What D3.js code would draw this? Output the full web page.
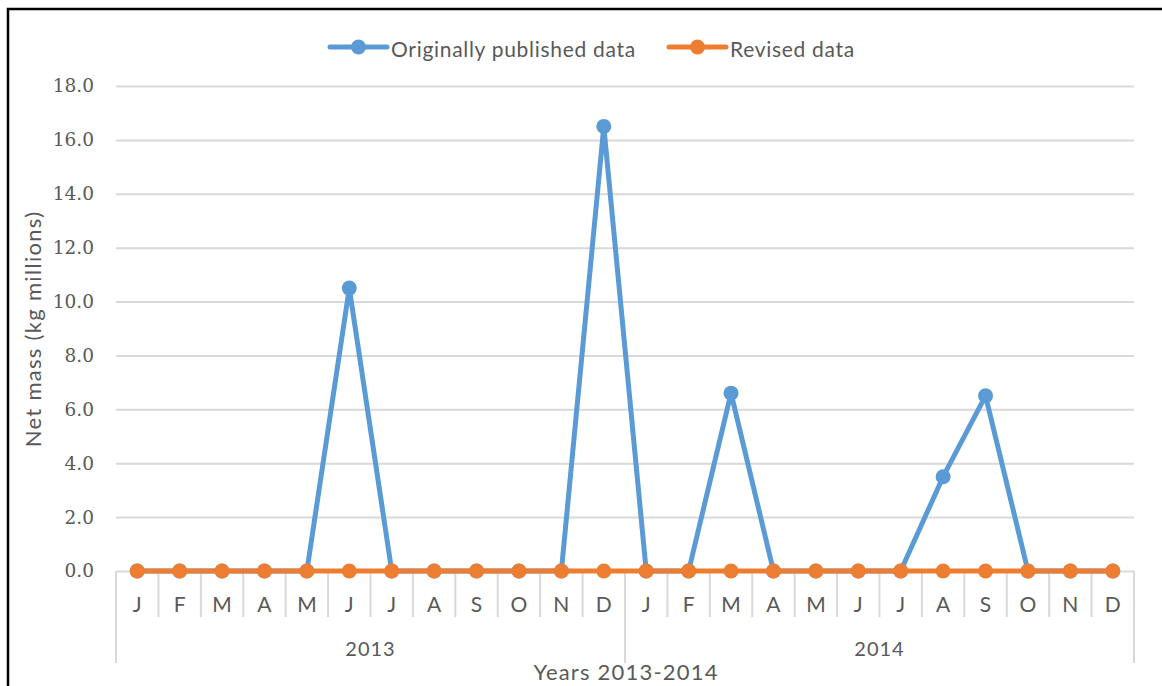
<!DOCTYPE html>
<html>
<head>
<meta charset="utf-8">
<script src="https://cdn.jsdelivr.net/npm/d3@7"></script>
<style>
  body { margin: 0; background: #fff; }
  svg { display: block; }
</style>
</head>
<body>
<div id="chart"></div>
<script>
// month initials, two years
const months = ["J","F","M","A","M","J","J","A","S","O","N","D",
                "J","F","M","A","M","J","J","A","S","O","N","D"];
const years = ["2013", "2014"];
const original = [0, 0, 0, 0, 0, 10.5, 0, 0, 0, 0, 0, 16.5,
                  0, 0, 6.6, 0, 0, 0, 0, 3.5, 6.5, 0, 0, 0];
const revised = [0, 0, 0, 0, 0, 0, 0, 0, 0, 0, 0, 0,
                 0, 0, 0, 0, 0, 0, 0, 0, 0, 0, 0, 0];
const yTicks = [0, 2, 4, 6, 8, 10, 12, 14, 16, 18];

const width = 1162;
const height = 686;
const blue = "#5B9BD5";
const orange = "#ED7D31";
const textColor = "#595959";
const gridColor = "#D9D9D9";

const svg = d3.select("#chart")
              .append("svg")
              .attr("width", width)
              .attr("height", height);

// outer frame (runs off the right and bottom edges)
svg.append("rect")
   .attr("x", 8)
   .attr("y", 9)
   .attr("width", 1300)
   .attr("height", 800)
   .attr("fill", "none")
   .attr("stroke", "#000")
   .attr("stroke-width", 2.5);

const xScale = d3.scaleBand()
                 .domain(d3.range(months.length))
                 .range([116, 1134])
                 .padding(0);

const yScale = d3.scaleLinear()
                 .domain([0, 18])
                 .range([571, 86]);

const cx = i => xScale(i) + xScale.bandwidth() / 2;

// gridlines + y labels
const yAxis = d3.axisLeft(yScale)
                .tickValues(yTicks)
                .tickFormat(d3.format(".1f"))
                .tickSize(-(1134 - 116))
                .tickPadding(22);

const gy = svg.append("g")
              .attr("transform", "translate(116, 0)")
              .call(yAxis);
gy.select(".domain").remove();
gy.selectAll(".tick line")
  .attr("stroke", gridColor)
  .attr("stroke-width", 2);
gy.selectAll(".tick text")
  .attr("fill", textColor)
  .style("font-family", "'DejaVu Serif'")
  .style("font-size", "18.5px");

// category axis: separators between months, longer ones at year edges
const bounds = d3.range(months.length + 1);
svg.selectAll(".sep")
   .data(bounds)
   .enter()
   .append("line")
   .attr("class", "sep")
   .attr("x1", i => i < months.length ? xScale(i) : xScale.range()[1])
   .attr("x2", i => i < months.length ? xScale(i) : xScale.range()[1])
   .attr("y1", yScale(0))
   .attr("y2", i => (i % 12 === 0) ? 663 : 617)
   .attr("stroke", gridColor)
   .attr("stroke-width", 2);

svg.selectAll(".month")
   .data(months)
   .enter()
   .append("text")
   .attr("class", "month")
   .attr("x", (d, i) => cx(i))
   .attr("y", 603)
   .attr("text-anchor", "middle")
   .attr("dominant-baseline", "central")
   .attr("fill", textColor)
   .style("font-family", "Lato")
   .style("font-size", "21px")
   .text(d => d);

svg.selectAll(".year")
   .data(years)
   .enter()
   .append("text")
   .attr("class", "year")
   .attr("x", (d, i) => (xScale(i * 12) + xScale(i * 12 + 11) + xScale.bandwidth()) / 2)
   .attr("y", 648)
   .attr("text-anchor", "middle")
   .attr("dominant-baseline", "central")
   .attr("fill", textColor)
   .style("font-family", "Lato")
   .style("font-size", "20px")
   .style("letter-spacing", "1px")
   .text(d => d);

// series
const line = d3.line()
               .x((d, i) => cx(i))
               .y(d => yScale(d));

const series = [
  { name: "Originally published data", values: original, color: blue },
  { name: "Revised data", values: revised, color: orange }
];

series.forEach(s => {
  svg.append("path")
     .datum(s.values)
     .attr("d", line)
     .attr("fill", "none")
     .attr("stroke", s.color)
     .attr("stroke-width", 5)
     .attr("stroke-linejoin", "round");

  svg.selectAll(null)
     .data(s.values)
     .enter()
     .append("circle")
     .attr("cx", (d, i) => cx(i))
     .attr("cy", d => yScale(d))
     .attr("r", 7.5)
     .attr("fill", s.color);
});

// legend
const legendX = [330, 669];
series.forEach((s, i) => {
  const g = svg.append("g")
               .attr("transform", `translate(${legendX[i]}, 47)`);
  g.append("line")
   .attr("x1", 0)
   .attr("x2", 57)
   .attr("stroke", s.color)
   .attr("stroke-width", 5)
   .attr("stroke-linecap", "round");
  g.append("circle")
   .attr("cx", 28.5)
   .attr("r", 7.5)
   .attr("fill", s.color);
  g.append("text")
   .attr("x", 61)
   .attr("y", 1)
   .attr("dominant-baseline", "central")
   .attr("fill", textColor)
   .style("font-family", "Lato")
   .style("font-size", "21px")
   .style("letter-spacing", "0.7px")
   .text(s.name);
});

// axis titles
svg.append("text")
   .attr("x", 626)
   .attr("y", 671)
   .attr("text-anchor", "middle")
   .attr("dominant-baseline", "central")
   .attr("fill", textColor)
   .style("font-family", "Lato")
   .style("font-size", "22px")
   .style("letter-spacing", "1.2px")
   .text("Years 2013-2014");

svg.append("text")
   .attr("transform", "translate(32, 329) rotate(-90)")
   .attr("text-anchor", "middle")
   .attr("dominant-baseline", "central")
   .attr("fill", textColor)
   .style("font-family", "Lato")
   .style("font-size", "22px")
   .style("letter-spacing", "1.3px")
   .text("Net mass (kg millions)");
</script>
</body>
</html>
